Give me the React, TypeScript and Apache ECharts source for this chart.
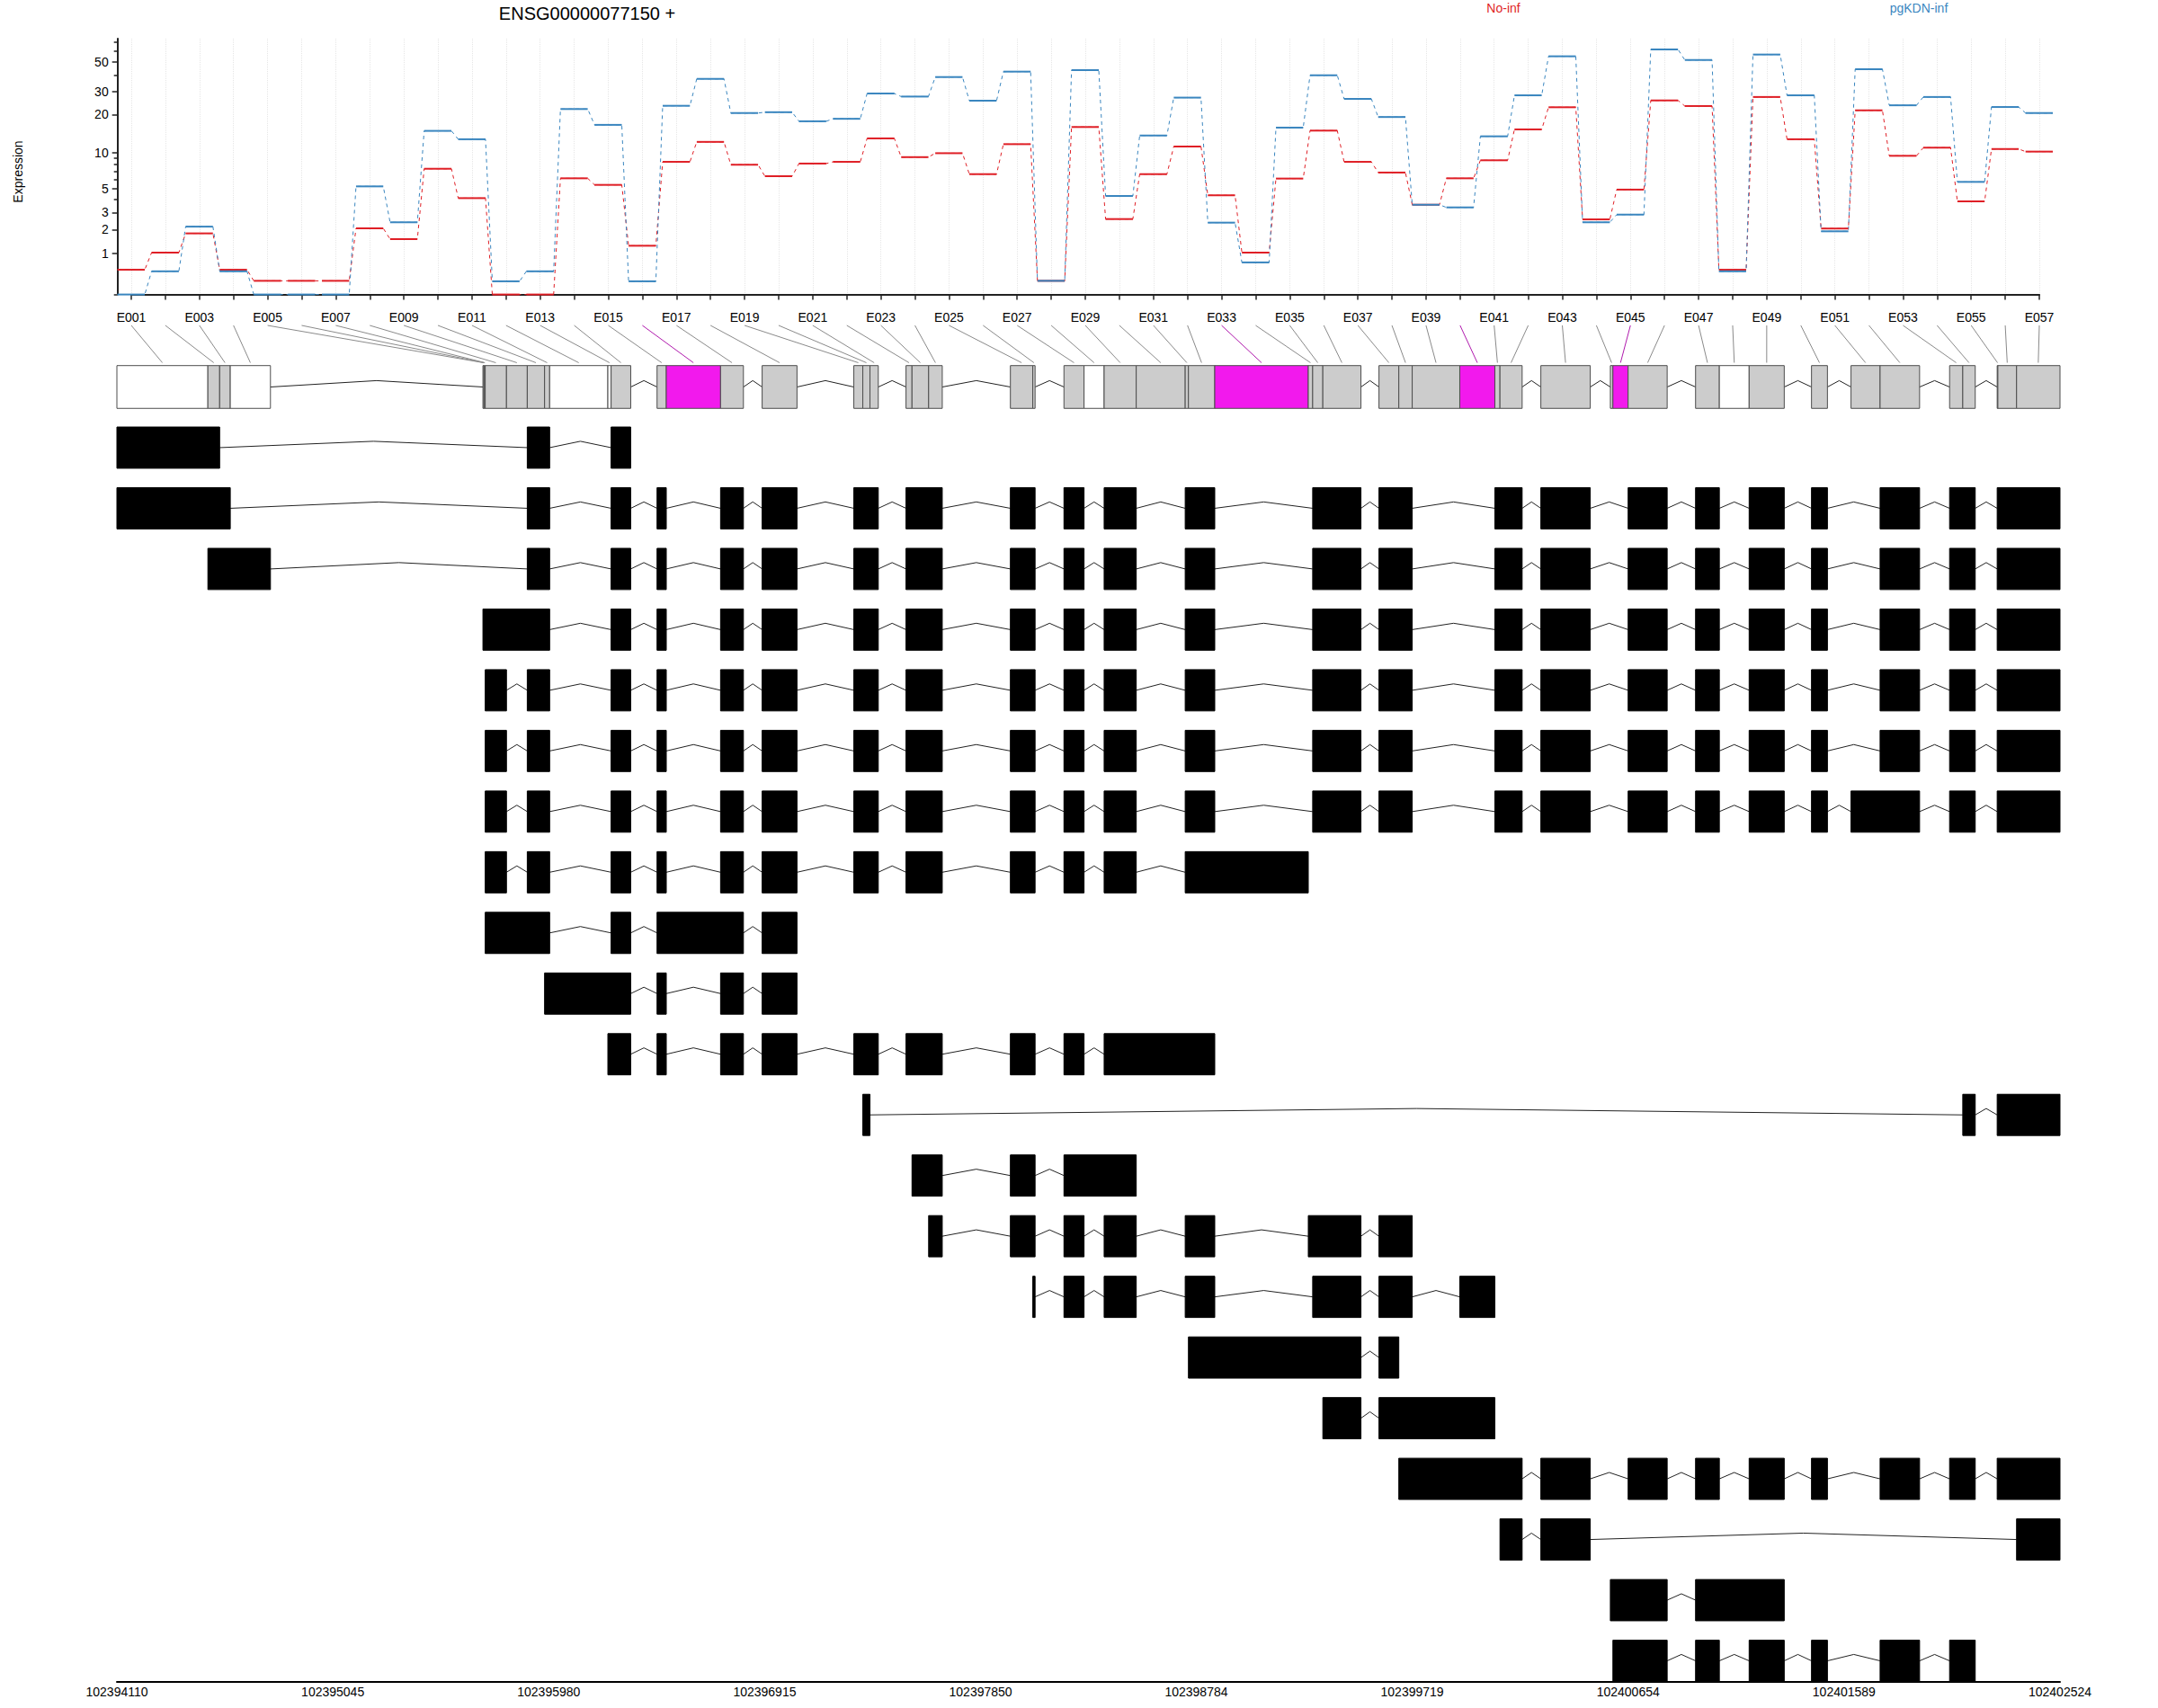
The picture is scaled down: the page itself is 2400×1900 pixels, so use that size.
import React, { useEffect, useRef } from 'react';
import * as echarts from 'echarts';

const geneTitle = 'ENSG00000077150 +';
const yAxisTitle = 'Expression';
const conditionNames = ['No-inf', 'pgKDN-inf'];
const conditionColors = ['#DF1F26', '#3A86BF'];

const exonIds = Array.from({ length: 57 }, (_, i) => 'E' + String(i + 1).padStart(3, '0'));

const noInfExpr = [
  0.52, 1.03, 1.81, 0.52, 0.26, 0.26, 0.26, 2.06, 1.55, 7.38,
  4.1, 0, 0, 6.13, 5.38, 1.28, 8.42, 12.2, 7.97, 6.39,
  8.15, 8.42, 13.0, 9.2, 9.9, 6.65, 11.7, 0.26, 15.97, 2.58,
  6.65, 11.2, 4.35, 1.03, 6.1, 14.97, 8.42, 6.86, 3.56, 6.13,
  8.67, 15.3, 22.7, 2.56, 4.89, 25.6, 23.2, 0.52, 27.2, 12.8,
  2.05, 21.5, 9.43, 10.97, 3.83, 10.7, 10.2,
];
const pgkdnExpr = [
  0, 0.48, 2.15, 0.48, 0, 0, 0, 5.22, 2.39, 14.9,
  12.8, 0.25, 0.48, 22.0, 16.6, 0.25, 23.3, 37.3, 20.5, 20.8,
  17.7, 18.5, 28.9, 27.4, 38.5, 25.5, 42.3, 0.26, 43.4, 4.29,
  13.7, 26.9, 2.37, 0.72, 15.8, 39.7, 26.3, 19.1, 3.56, 3.36,
  13.5, 28.0, 55.1, 2.39, 2.86, 62.0, 51.7, 0.48, 56.8, 28.0,
  1.91, 44.1, 23.5, 27.2, 5.71, 22.8, 20.5,
];

const binStarts = [
  102394110, 102394504, 102394555, 102394601, 102395695, 102395699, 102395702, 102395705, 102395797, 102395887,
  102395962, 102395984, 102396236, 102396250, 102396449, 102396489, 102396724, 102396904, 102397301, 102397340,
  102397371, 102397527, 102397553, 102397625, 102397979, 102398076, 102398211, 102398298, 102398385, 102398524,
  102398736, 102398750, 102398864, 102399269, 102399288, 102399332, 102399575, 102399661, 102399719, 102399925,
  102400077, 102400099, 102400276, 102400577, 102400588, 102400654, 102400946, 102401049, 102401178, 102401448,
  102401619, 102401745, 102402046, 102402103, 102402252, 102402255, 102402336,
];
const binEnds = [
  102394504, 102394555, 102394601, 102394775, 102395699, 102395702, 102395705, 102395797, 102395887, 102395962,
  102395984, 102396236, 102396250, 102396335, 102396489, 102396724, 102396823, 102397055, 102397340, 102397371,
  102397407, 102397553, 102397625, 102397684, 102398076, 102398086, 102398298, 102398385, 102398524, 102398736,
  102398750, 102398864, 102399269, 102399288, 102399332, 102399497, 102399661, 102399719, 102399925, 102400077,
  102400099, 102400195, 102400490, 102400588, 102400654, 102400823, 102401049, 102401178, 102401330, 102401517,
  102401745, 102401916, 102402103, 102402157, 102402255, 102402336, 102402524,
];
// w = not tested, g = tested, s = significant
const binStatus = [
  'w', 'g', 'g', 'w', 'w', 'w', 'w', 'g', 'g', 'g',
  'g', 'w', 'w', 'g', 'g', 's', 'g', 'g', 'g', 'g',
  'g', 'g', 'g', 'g', 'g', 'g', 'g', 'w', 'g', 'g',
  'g', 'g', 's', 'g', 'g', 'g', 'g', 'g', 'g', 's',
  'g', 'g', 'g', 'g', 's', 'g', 'g', 'w', 'g', 'g',
  'g', 'g', 'g', 'g', 'g', 'g', 'g',
];

const yLabelValues = [1, 2, 3, 5, 10, 20, 30, 50];
const yMinorValues = [0, 4, 6, 7, 8, 9, 40, 60, 70];
const genomicTicks = [
  102394110, 102395045, 102395980, 102396915, 102397850,
  102398784, 102399719, 102400654, 102401589, 102402524,
];

// transcripts: lists of [first bin, last bin] (1-based exon bin numbers)
const fullTail = [
  [14, 14], [15, 15], [17, 17], [18, 18], [19, 21], [22, 24], [25, 26], [27, 27], [29, 29], [31, 32],
  [35, 36], [37, 38], [41, 42], [43, 43], [46, 46], [47, 47], [49, 49], [50, 50], [52, 52], [53, 54], [55, 57],
];
const altTail = [
  [14, 14], [15, 15], [17, 17], [18, 18], [19, 21], [22, 24], [25, 26], [27, 27], [29, 29], [31, 32],
  [35, 36], [37, 38], [41, 42], [43, 43], [46, 46], [47, 47], [49, 49], [50, 50], [51, 52], [53, 54], [55, 57],
];
const transcripts = [
  [[1, 2], [10, 11], [14, 14]],
  [[1, 3], [10, 11], ...fullTail],
  [[2, 4], [10, 11], ...fullTail],
  [[5, 11], ...fullTail],
  [[8, 8], [10, 11], ...fullTail],
  [[8, 8], [10, 11], ...fullTail],
  [[8, 8], [10, 11], ...altTail],
  [[8, 8], [10, 11], [14, 14], [15, 15], [17, 17], [18, 18], [19, 21], [22, 24], [25, 26], [27, 27], [29, 29], [31, 33]],
  [[8, 11], [14, 14], [15, 17], [18, 18]],
  [[11, 14], [15, 15], [17, 17], [18, 18]],
  [[13, 14], [15, 15], [17, 17], [18, 18], [19, 21], [22, 24], [25, 26], [27, 27], [29, 32]],
  [[20, 20], [54, 54], [55, 57]],
  [[23, 24], [25, 26], [27, 29]],
  [[24, 24], [25, 26], [27, 27], [29, 29], [31, 32], [34, 36], [37, 38]],
  [[26, 26], [27, 27], [29, 29], [31, 32], [35, 36], [37, 38], [40, 40]],
  [[32, 36], [37, 37]],
  [[36, 36], [37, 40]],
  [[38, 42], [43, 43], [46, 46], [47, 47], [49, 49], [50, 50], [52, 52], [53, 54], [55, 57]],
  [[42, 42], [43, 43], [57, 57]],
  [[44, 46], [47, 49]],
  [[45, 46], [47, 47], [49, 49], [50, 50], [52, 52], [53, 54]],
];

const FONT = '"Liberation Sans", Arial, Helvetica, sans-serif';
const W = 2400;
const H = 1900;

export default function App() {
  const ref = useRef<HTMLDivElement>(null);

  useEffect(() => {
    const chart = echarts.init(ref.current!, null, { renderer: 'svg', width: W, height: H });
    const toT = (v: number) => Math.log10(v + 1);
    const exprSets = [noInfExpr, pgkdnExpr];

    const fills = ['#FFFFFF', '#CCCCCC', '#F219ED', '#000000'];
    const statusIdx: Record<string, number> = { w: 0, g: 1, s: 2 };

    const rectData: number[][] = [];
    const intronData: number[][] = [];
    binStarts.forEach((s, i) => {
      rectData.push([s, binEnds[i], 0, statusIdx[binStatus[i]]]);
      if (i < binStarts.length - 1 && binEnds[i] < binStarts[i + 1]) {
        intronData.push([binEnds[i], binStarts[i + 1], 0]);
      }
    });
    transcripts.forEach((tx, r) => {
      const segs = tx.map(([a, b]) => [binStarts[a - 1], binEnds[b - 1]]);
      segs.forEach(([s, e], k) => {
        rectData.push([s, e, r + 1, 3]);
        if (k < segs.length - 1) intronData.push([e, segs[k + 1][0], r + 1]);
      });
    });

    const series: any[] = [];
    exprSets.forEach((vals, c) => {
      const pts: number[][] = [];
      vals.forEach((v, i) => {
        pts.push([i + 1 - 0.4, toT(v)]);
        pts.push([i + 1 + 0.4, toT(v)]);
      });
      series.push({
        type: 'line',
        xAxisIndex: 0,
        yAxisIndex: 0,
        data: pts,
        symbol: 'none',
        lineStyle: { color: conditionColors[c], width: 1, type: [4, 4] },
        silent: true,
        z: 3,
      });
      series.push({
        type: 'custom',
        xAxisIndex: 0,
        yAxisIndex: 0,
        data: vals.map((v, i) => [i + 1, toT(v)]),
        renderItem: (params: any, api: any) => {
          const x = api.value(0);
          const y = api.value(1);
          const a = api.coord([x - 0.4, y]);
          const b = api.coord([x + 0.4, y]);
          return {
            type: 'line',
            shape: { x1: a[0], y1: a[1], x2: b[0], y2: b[1] },
            style: { stroke: conditionColors[c], lineWidth: 2 },
          };
        },
        silent: true,
        z: 4,
      });
    });

    series.push({
      type: 'custom',
      xAxisIndex: 2,
      yAxisIndex: 3,
      encode: { x: [0, 1], y: 2 },
      data: intronData,
      clip: false,
      renderItem: (params: any, api: any) => {
        const row = api.value(2);
        const a = api.coord([api.value(0), row]);
        const b = api.coord([api.value(1), row]);
        const hh = api.size([0, 1])[1] * 0.105;
        return {
          type: 'polyline',
          shape: { points: [[a[0], a[1]], [(a[0] + b[0]) / 2, a[1] - hh], [b[0], b[1]]] },
          style: { stroke: '#222', lineWidth: 1, fill: null },
        };
      },
      silent: true,
      z: 2,
    });

    series.push({
      type: 'custom',
      xAxisIndex: 2,
      yAxisIndex: 3,
      encode: { x: [0, 1], y: 2 },
      data: rectData,
      clip: false,
      renderItem: (params: any, api: any) => {
        const row = api.value(2);
        const a = api.coord([api.value(0), row]);
        const b = api.coord([api.value(1), row]);
        const h = api.size([0, 1])[1] * (row === 0 ? 0.705 : 0.68);
        const k = api.value(3);
        return {
          type: 'rect',
          shape: { x: a[0], y: a[1] - h / 2, width: Math.max(b[0] - a[0], 0.6), height: h },
          style: { fill: fills[k], stroke: k === 3 ? '#000' : '#4d4d4d', lineWidth: 1 },
        };
      },
      silent: true,
      z: 3,
    });

    const option: any = {
      animation: false,
      backgroundColor: '#ffffff',
      textStyle: { fontFamily: FONT },
      grid: [
        { left: 130.7, width: 2152.3, top: 43, height: 284.6, containLabel: false, outerBoundsMode: 'none' },
        { left: 146, width: 2122, top: 43, height: 284.6, containLabel: false, outerBoundsMode: 'none' },
        { left: 130, width: 2161, top: 396.75, height: 1474.25, containLabel: false, outerBoundsMode: 'none' },
      ],
      xAxis: [
        { gridIndex: 0, type: 'value', min: 0.6, max: 57.4, show: false },
        {
          gridIndex: 1,
          type: 'category',
          data: exonIds,
          boundaryGap: false,
          offset: 10,
          axisLine: { show: true, lineStyle: { color: '#222', width: 2 } },
          axisTick: { show: true, interval: 0, length: 6, lineStyle: { color: '#222', width: 1.5 } },
          axisLabel: { interval: 1, fontSize: 14, color: '#000', margin: 8, fontFamily: FONT },
          splitLine: { show: true, interval: 0, lineStyle: { color: '#e6e6e6', type: 'dotted', width: 1 } },
        },
        {
          gridIndex: 2,
          type: 'value',
          min: genomicTicks[0],
          max: genomicTicks[genomicTicks.length - 1],
          axisLine: { show: true, onZero: false, lineStyle: { color: '#000', width: 2 } },
          axisTick: { show: false },
          axisLabel: {
            customValues: genomicTicks,
            fontSize: 14,
            color: '#000',
            margin: 4,
            fontFamily: FONT,
            formatter: (v: number) => String(Math.round(v)),
          },
          splitLine: { show: false },
        },
      ],
      yAxis: [
        {
          gridIndex: 0,
          type: 'value',
          min: 0,
          max: 1.8785,
          axisLine: { show: true, lineStyle: { color: '#222', width: 2 } },
          axisTick: { show: true, customValues: yLabelValues.map(toT), length: 6, lineStyle: { color: '#222', width: 1.5 } },
          axisLabel: {
            customValues: yLabelValues.map(toT),
            fontSize: 14,
            color: '#000',
            margin: 10,
            fontFamily: FONT,
            formatter: (t: number) => String(Math.round(Math.pow(10, t) - 1)),
          },
          splitLine: { show: false },
        },
        {
          gridIndex: 0,
          type: 'value',
          min: 0,
          max: 1.8785,
          position: 'left',
          axisLine: { show: false },
          axisTick: { show: true, customValues: yMinorValues.map(toT), length: 4, lineStyle: { color: '#222', width: 1.5 } },
          axisLabel: { show: false },
          splitLine: { show: false },
        },
        { gridIndex: 1, type: 'value', min: 0, max: 1, show: false },
        { gridIndex: 2, type: 'value', inverse: true, min: -0.5, max: 21.348, show: false },
      ],
      series,
    };

    chart.setOption(option);

    const graphics: any[] = [
      {
        type: 'text',
        x: 653,
        y: 15,
        style: { text: geneTitle, fill: '#000', font: `20px ${FONT}`, textAlign: 'center', textVerticalAlign: 'middle' },
      },
      {
        type: 'text',
        x: 20,
        y: 191,
        rotation: Math.PI / 2,
        style: { text: yAxisTitle, fill: '#000', font: `14px ${FONT}`, textAlign: 'center', textVerticalAlign: 'middle' },
      },
      {
        type: 'text',
        x: 1672,
        y: 9,
        style: { text: conditionNames[0], fill: conditionColors[0], font: `14px ${FONT}`, textAlign: 'center', textVerticalAlign: 'middle' },
      },
      {
        type: 'text',
        x: 2134,
        y: 9,
        style: { text: conditionNames[1], fill: conditionColors[1], font: `14px ${FONT}`, textAlign: 'center', textVerticalAlign: 'middle' },
      },
    ];
    const yEnd = chart.convertToPixel({ yAxisIndex: 3 } as any, -0.4) as unknown as number;
    exonIds.forEach((id, i) => {
      const lx = chart.convertToPixel({ xAxisIndex: 1 } as any, id) as unknown as number;
      const cx = chart.convertToPixel({ xAxisIndex: 2 } as any, (binStarts[i] + binEnds[i]) / 2) as unknown as number;
      graphics.push({
        type: 'line',
        silent: true,
        shape: { x1: lx, y1: 362, x2: cx, y2: yEnd },
        style: { stroke: binStatus[i] === 's' ? '#B01AAD' : '#8a8a8a', lineWidth: 1 },
      });
    });
    chart.setOption({ graphic: graphics });

    return () => chart.dispose();
  }, []);

  return <div ref={ref} style={{ position: 'absolute', left: 0, top: 0, width: W, height: H, background: '#fff' }} />;
}
